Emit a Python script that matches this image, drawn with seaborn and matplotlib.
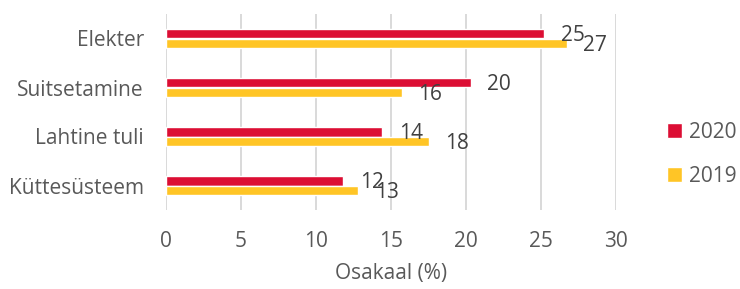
import pandas as pd
import matplotlib.pyplot as plt
import seaborn as sns

# ===================== Tulekahjude põhjused (osakaal) =====================
categories = ["Elekter", "Suitsetamine", "Lahtine tuli", "Küttesüsteem"]
years = ["2020", "2019"]
share_2020 = [25.2, 20.3, 14.4, 11.8]
share_2019 = [26.7, 15.7, 17.5, 12.8]

df = pd.DataFrame({
    "Põhjus": categories * 2,
    "Aasta": ["2020"] * len(categories) + ["2019"] * len(categories),
    "Osakaal": share_2020 + share_2019,
})

sns.set_theme(style="white")
plt.rcParams['font.family'] = ['Open Sans', 'DejaVu Sans']

palette = {"2020": "#DC0E34", "2019": "#FFC526"}

fig = plt.figure(figsize=(7.4, 2.89), dpi=100)
ax = fig.add_axes([166 / 740, 1 - 210 / 289, 450 / 740, 196 / 289])

sns.barplot(
    data=df, y="Põhjus", x="Osakaal", hue="Aasta",
    hue_order=years, order=categories, palette=palette,
    orient="h", width=0.4, saturation=1, ax=ax, zorder=3,
)

for cont in ax.containers:
    texts = ax.bar_label(cont, fmt="%.0f", padding=12, fontsize=15, color="#404040")
    for t in texts:
        t.xyann = (12, -1.5)  # labels sit a touch below bar centre

ax.set_xlim(0, 30)
ax.set_ylim(3.5, -0.5)
ax.set_xticks(range(0, 31, 5))
ax.grid(axis="x", color="#d9d9d9", linewidth=1.4, zorder=0)
ax.grid(axis="y", visible=False)
for s in ax.spines.values():
    s.set_visible(False)

ax.tick_params(axis="y", length=0, pad=16, labelsize=15, labelcolor="#595959")
ax.tick_params(axis="x", length=0, pad=15, labelsize=15, labelcolor="#595959")
ax.set_ylabel("")
ax.set_xlabel("Osakaal (%)", fontsize=15, color="#595959", labelpad=8)

ax.legend(
    loc="center left", bbox_to_anchor=(667 / 740, 1 - 154.5 / 289),
    bbox_transform=fig.transFigure, frameon=False, fontsize=15,
    labelcolor="#595959", handlelength=0.7, handleheight=0.7,
    handletextpad=0.35, labelspacing=1.1, borderpad=0, borderaxespad=0,
)

fig.savefig("out.png", dpi=100)
